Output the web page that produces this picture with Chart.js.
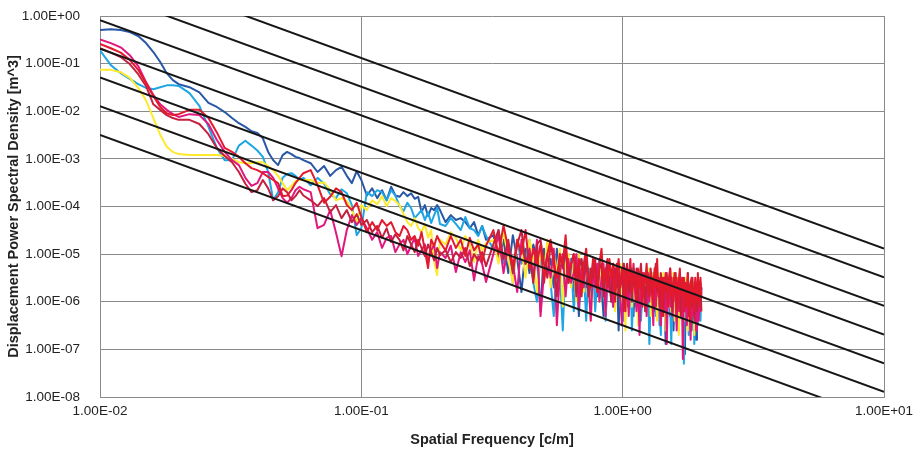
<!DOCTYPE html>
<html>
<head>
<meta charset="utf-8">
<script src="https://cdn.jsdelivr.net/npm/chart.js@4.4.1/dist/chart.umd.min.js"></script>
<style>
  html, body { margin: 0; padding: 0; background: #ffffff; }
  canvas { display: block; }
</style>
</head>
<body>
<canvas id="psd" width="914" height="458"></canvas>
<script>
// Spatial frequency samples [c/m]
const freq = [
  0.010,0.011,0.012,0.013,0.014,0.015,0.016,0.017,0.018,0.019,0.020,
  0.022,0.024,0.026,0.028,0.030,0.032,0.034,0.036,0.038,0.040,0.042,0.044,0.046,0.048,0.050,0.052,0.054,0.056,0.058,0.060,
  0.064,0.068,0.072,0.076,0.080,0.084,0.088,0.092,0.096,0.100,
  0.105,0.110,0.115,0.120,0.125,0.130,0.135,0.140,0.145,0.150,0.155,0.160,0.165,0.170,0.175,0.180,0.185,0.190,0.195,0.200,
  0.21,0.22,0.23,0.24,0.25,0.26,0.27,0.28,0.29,0.30,
  0.320,0.335,0.350,0.365,0.380,0.395,0.410,0.425,0.440,0.455,
  0.470,0.485,0.500,0.515,0.530,0.545,0.560,0.575,0.590,0.605,
  0.620,0.635,0.650,0.665,0.680,0.695,0.710,0.725,0.740,0.755,
  0.770,0.785,0.800,0.815,0.830,0.845,0.860,0.875,0.890,0.905,
  0.920,0.935,0.950,0.965,0.980,0.995,1.010,1.025,1.040,1.055,
  1.070,1.085,1.100,1.115,1.130,1.145,1.160,1.175,1.190,1.205,
  1.220,1.235,1.250,1.265,1.280,1.295,1.310,1.325,1.340,1.355,
  1.370,1.385,1.400,1.415,1.430,1.445,1.460,1.475,1.490,1.505,
  1.520,1.535,1.550,1.565,1.580,1.595,1.610,1.625,1.640,1.655,
  1.670,1.685,1.700,1.715,1.730,1.745,1.760,1.775,1.790,1.805,
  1.820,1.835,1.850,1.865,1.880,1.895,1.910,1.925,1.940,1.955,
  1.970,1.985,2.000
];

// Measured displacement PSD per run [m^3]
const psdRed = [
  0.26,0.21,0.17,0.12,0.074,0.039,0.021,0.0123,0.0091,0.0083,0.0087,
  0.0107,0.0107,0.0072,0.0036,0.0017,0.0014,0.0011,0.00081,0.00064,0.00058,0.0005,0.00042,0.00036,0.00031,0.000165,0.00017,0.00022,0.00031,0.0004,0.0005,
  5.8e-4,2.8e-4,1.2e-4,1.6e-4,2.4e-4,2e-4,1.07e-4,8.4e-5,1.2e-4,6e-5,
  2.9e-5,4.7e-5,3.2e-5,5.2e-5,3.9e-5,4.7e-5,2.9e-5,2.4e-5,3.9e-5,3.2e-5,2e-5,2.4e-5,1.5e-5,2.9e-5,1.2e-5,5.1e-6,2e-5,1.5e-5,2.4e-5,1.8e-5,
  1.2e-5,2.4e-5,1.35e-5,2e-5,9.1e-6,2.2e-5,1.2e-5,1.6e-5,6.8e-6,1.5e-5,
  3.2e-5,1e-5,4e-5,1.3e-5,5e-6,2e-5,1e-5,3.2e-5,5e-6,1.3e-5,
  6.3e-6,1.6e-5,2.5e-6,1e-5,2e-5,6.3e-6,3.2e-6,1e-5,6.3e-6,2.5e-5,
  2.5e-6,6.3e-6,1e-5,3.2e-6,7.9e-6,1.3e-6,6.3e-6,1.3e-5,3.2e-6,2e-6,
  7.9e-6,4e-6,1.6e-6,6.3e-6,1.3e-5,2.5e-6,5e-6,2e-6,7.9e-6,3.2e-6,
  6.3e-6,1e-6,4e-6,7.9e-6,2e-6,3.2e-6,6.3e-6,6.3e-7,5e-6,2.5e-6,
  7.9e-6,1.6e-6,4e-6,4e-6,1e-6,5e-6,2e-6,3.2e-6,7.9e-7,4e-6,
  2.5e-6,6.3e-6,1.6e-6,1.3e-6,4e-6,3.2e-6,1e-6,5e-6,2e-6,7.9e-6,
  1.3e-6,2.5e-6,3.2e-6,5e-7,3.2e-6,1.6e-6,4e-6,2e-6,7.9e-7,3.2e-6,
  5e-6,1.3e-6,2.5e-6,1e-6,4e-6,1.6e-6,3.2e-6,6.3e-7,2.5e-6,5e-6,
  1.3e-6,1.6e-6,3.2e-6,6.3e-7,2.5e-6,2e-6,7.9e-7,4e-6,1.3e-6,4e-7,
  2.5e-6,3.2e-6,1e-6,2e-6,6.3e-7,3.2e-6,1.6e-6,1e-6,4e-6,7.9e-7,
  2e-6,3.2e-6,1.3e-6
];

const psdCrimson = [
  0.21,0.17,0.138,0.098,0.06,0.034,0.014,0.0107,0.0083,0.0072,0.0066,
  0.0066,0.0054,0.0033,0.0017,0.00115,0.00085,0.00053,0.0003,0.0002,0.00022,0.00036,0.00024,0.000135,0.000165,0.00024,0.0002,0.000135,0.000165,0.00022,0.00017,
  1.35e-4,1.02e-4,1.5e-4,7.6e-5,1.07e-4,5.7e-5,8.4e-5,4.7e-5,6.9e-5,4.1e-5,
  5.2e-5,2.9e-5,3.9e-5,2.2e-5,3.5e-5,1.8e-5,2.6e-5,2e-5,1.2e-5,2.4e-5,1.6e-5,1.1e-5,2e-5,1.35e-5,9.1e-6,1.6e-5,1.1e-5,7.4e-6,1.35e-5,9.5e-6,
  1.2e-5,6.8e-6,1.1e-5,8.3e-6,1.35e-5,5.6e-6,1e-5,7.4e-6,1.1e-5,5.6e-6,
  1.6e-5,3.2e-5,7.9e-6,2e-5,4e-6,1.6e-5,3.2e-5,6.3e-6,1e-5,2.5e-6,
  1.6e-5,2e-5,6.3e-6,3.2e-6,1.6e-5,7.9e-6,1.3e-6,1e-5,5e-6,1.3e-5,
  2.5e-6,6.3e-6,1e-5,1.3e-6,5e-6,7.9e-6,3.2e-6,1e-5,1.3e-6,5e-6,
  3.2e-6,7.9e-6,1.6e-6,5e-6,6.3e-6,1.3e-6,4e-6,7.9e-6,2.5e-6,1e-6,
  6.3e-6,3.2e-6,6.3e-6,1.3e-6,2.5e-6,5e-6,6.3e-7,4e-6,6.3e-6,1.6e-6,
  3.2e-6,1e-6,5e-6,2e-6,5e-6,1e-6,3.2e-6,6.3e-6,1.6e-6,2.5e-6,
  6.3e-7,4e-6,3.2e-6,1.3e-6,5e-6,2e-6,7.9e-7,4e-6,6.3e-6,1.6e-6,
  3.2e-6,7.9e-7,4e-6,2e-6,5e-7,3.2e-6,1.6e-6,4e-6,1e-6,2.5e-6,
  5e-6,1.3e-6,6.3e-7,3.2e-6,2e-6,4e-6,7.9e-7,2.5e-6,1.6e-6,4e-6,
  5e-7,2.5e-6,1.6e-6,3.2e-6,7.9e-7,2e-6,1e-6,4e-6,5e-7,2e-6,
  2.5e-6,7.9e-7,3.2e-6,1.3e-6,4e-7,2.5e-6,2e-6,6.3e-7,3.2e-6,1.6e-6,
  1e-6,2.5e-6,6.3e-7
];

const psdMagenta = [
  0.32,0.27,0.22,0.15,0.089,0.041,0.022,0.014,0.0107,0.0087,0.0076,
  0.0087,0.0083,0.0054,0.0025,0.0014,0.00094,0.00074,0.0004,0.00027,0.00031,0.00053,0.00053,0.0004,0.00024,0.00015,0.00012,0.00015,0.00022,0.00026,0.00023,
  2e-4,3.5e-5,4.1e-5,8.4e-5,2.8e-5,9e-6,3.2e-5,6.6e-5,4.1e-5,5.7e-5,
  3.5e-5,2e-5,2.9e-5,1.35e-5,2.2e-5,2.4e-5,1.1e-5,1.6e-5,2e-5,1e-5,1.5e-5,2.2e-5,9.1e-6,1.2e-5,1.6e-5,6.8e-6,1.2e-5,1.6e-5,5.1e-6,1.1e-5,
  8.3e-6,1.5e-5,4.2e-6,1.1e-5,6.8e-6,1.2e-5,2.8e-6,9.1e-6,6.2e-6,2.6e-6,
  1e-5,2.5e-5,4e-6,1.6e-5,6.3e-6,1.6e-6,2e-5,6.3e-6,1.3e-5,3.2e-6,
  2e-5,5e-7,4e-6,1e-5,3.2e-6,1.3e-5,3.2e-7,4e-6,1e-5,1.3e-6,
  7.9e-6,2.5e-6,4e-6,1e-5,7.9e-7,5e-6,2e-6,7.9e-6,2.5e-6,4e-7,
  5e-6,2e-6,6.3e-6,1e-6,3.2e-6,6.3e-6,5e-7,5e-6,1.6e-6,4e-6,
  7.9e-7,5e-6,2e-6,4e-6,1e-6,3.2e-7,5e-6,1.6e-6,3.2e-6,5e-7,
  4e-6,1.3e-6,6.3e-6,1.6e-6,6.3e-7,3.2e-6,2e-7,2.5e-6,4e-6,1.3e-6,
  2e-6,5e-7,4e-6,1e-6,3.2e-6,1.6e-6,3.2e-7,4e-6,7.9e-7,2.5e-6,
  3.2e-6,1e-6,3.2e-7,3.2e-6,1.6e-6,6.3e-7,3.2e-6,1.3e-7,1.3e-6,2.5e-6,
  7.9e-7,3.2e-6,5e-7,1.6e-6,3.2e-6,1e-6,2.5e-7,2.5e-6,1.3e-6,6.3e-7,
  3.2e-6,1.3e-6,6.3e-8,2e-6,6.3e-7,2.5e-6,3.2e-7,1e-6,2e-6,7.9e-7,
  1.6e-7,2.5e-6,5e-7,1.6e-6,7.9e-7,2e-6,2.5e-7,2.5e-6,1e-6,4e-7,
  2e-6,6.3e-7,2e-6
];

const psdYellow = [
  0.074,0.074,0.066,0.05,0.031,0.017,0.0072,0.0032,0.0018,0.0014,0.00126,
  0.0012,0.0012,0.0012,0.0012,0.00115,0.001,0.00085,0.00081,0.00081,0.00085,0.00085,0.00071,0.00058,0.00044,0.00031,0.00022,0.00027,0.00034,0.00036,0.00036,
  3.6e-4,3.1e-4,3.2e-4,2.2e-4,1.35e-4,1.5e-4,1.3e-4,8.4e-5,4.7e-5,1.07e-4,
  8.4e-5,1.35e-4,1.12e-4,1.65e-4,1.02e-4,1.5e-4,1.3e-4,1.07e-4,6.9e-5,4.7e-5,3.9e-5,5.7e-5,3.5e-5,2.9e-5,4.3e-5,2.2e-5,3.2e-5,6.8e-6,3.6e-6,2e-5,
  1.6e-5,2.9e-5,2.2e-5,1.2e-5,2.4e-5,1.6e-5,6.8e-6,2e-5,1.2e-5,1.7e-5,
  2e-5,6.3e-6,3.2e-5,7.9e-6,2.5e-6,2e-5,1.3e-5,3.2e-6,2e-5,7.9e-6,
  1.6e-6,1.3e-5,4e-6,2e-5,2e-6,1e-5,4e-6,1.3e-5,7.9e-7,6.3e-6,
  1e-5,2e-6,6.3e-6,1e-6,1e-5,3.2e-6,1.6e-6,7.9e-6,3.2e-6,4e-7,
  7.9e-6,2e-6,5e-6,1e-6,6.3e-6,2.5e-6,6.3e-7,7.9e-6,4e-6,1.6e-6,
  6.3e-6,6.3e-7,4e-6,1.6e-6,6.3e-6,1e-6,2.5e-6,2.5e-7,5e-6,2e-6,
  4e-6,7.9e-7,6.3e-6,1e-6,2.5e-6,3.2e-7,4e-6,2e-6,1.3e-6,4e-6,
  7.9e-7,3.2e-6,1.6e-6,5e-6,5e-7,2.5e-6,4e-6,1e-6,2e-6,4e-7,
  4e-6,1e-6,2.5e-6,5e-7,4e-6,1.3e-6,2.5e-7,2.5e-6,2e-6,7.9e-7,
  3.2e-6,6.3e-7,1.6e-6,4e-6,4e-7,2.5e-6,1e-6,3.2e-6,2e-7,2e-6,
  2.5e-6,6.3e-7,2.5e-6,4e-7,1.6e-6,3.2e-6,1e-6,2.5e-7,2e-6,7.9e-7,
  2.5e-6,5e-7,1.3e-6,2.5e-6,2e-7,2e-6,7.9e-7,1.6e-6,4e-7,2.5e-6,
  1e-6,2e-6,6.3e-7
];

const psdCyan = [
  0.19,0.093,0.063,0.048,0.037,0.031,0.029,0.032,0.035,0.035,0.034,
  0.024,0.013,0.0047,0.0017,0.00094,0.00094,0.0019,0.0024,0.0019,0.0015,0.0011,0.00053,0.000135,0.0002,0.0004,0.00048,0.0005,0.00044,0.00036,0.0004,
  2.8e-4,4e-4,3e-4,1.8e-4,1.5e-4,2.3e-4,1.9e-4,1.07e-4,2.5e-5,3.5e-5,
  2e-4,1.65e-4,2.2e-4,2e-4,1.35e-4,2.2e-4,1.7e-4,1.02e-4,8e-5,1.2e-4,9.3e-5,5.7e-5,6.9e-5,8.4e-5,5.2e-5,7.6e-5,4.5e-5,6.6e-5,9.3e-5,4.3e-5,
  3.9e-5,5.7e-5,4.3e-5,3.2e-5,6e-5,3.5e-5,3.2e-5,2.4e-5,3.9e-5,2.4e-5,
  1.3e-5,3.2e-5,6.3e-6,1.3e-5,2.5e-6,2e-5,6.3e-6,7.9e-6,2e-5,2.5e-6,
  1e-6,1e-5,4e-6,1.3e-5,2.5e-6,5e-7,6.3e-6,4e-6,2.5e-7,7.9e-6,
  2.5e-6,7.9e-6,6.3e-7,4e-6,1e-5,1.3e-6,5e-6,4e-7,5e-6,2e-6,
  6.3e-6,6.3e-7,3.2e-6,6.3e-6,1.3e-6,5e-6,4e-7,2.5e-6,6.3e-6,1.6e-6,
  7.9e-7,4e-6,2e-6,6.3e-6,7.9e-7,3.2e-6,4e-7,4e-6,1.6e-6,2.5e-6,
  5e-6,2.5e-7,2e-6,3.2e-6,7.9e-7,4e-6,1.3e-6,4e-7,2.5e-6,4e-6,
  6.3e-7,2e-6,4e-6,1.3e-7,1.6e-6,3.2e-6,1e-6,4e-6,5e-7,2e-6,
  3.2e-6,6.3e-7,2e-7,3.2e-6,1.3e-6,1e-6,2.5e-6,3.2e-7,2e-6,3.2e-6,
  7.9e-7,1.3e-7,2.5e-6,1.3e-6,3.2e-6,5e-7,1.6e-6,2.5e-6,2.5e-7,1e-6,
  3.2e-6,6.3e-7,1.3e-6,5e-8,2e-6,4e-7,2.5e-6,7.9e-7,2e-7,1.6e-6,
  2e-6,5e-7,1e-6,2.5e-6,1.3e-7,1.3e-6,2e-6,6.3e-7,3.2e-7,2.5e-6,
  1e-6,4e-7,2e-6
];

const psdNavy = [
  0.51,0.53,0.51,0.46,0.38,0.27,0.175,0.108,0.063,0.045,0.037,
  0.032,0.025,0.015,0.0123,0.0096,0.0072,0.0056,0.0047,0.0038,0.0035,0.0027,0.0014,0.00094,0.00074,0.0012,0.0014,0.00126,0.0011,0.00104,0.00094,
  8.1e-4,5.3e-4,7.1e-4,4.4e-4,5.8e-4,6.8e-4,4.4e-4,3.1e-4,5.5e-4,3.6e-4,
  1.7e-4,2.4e-4,1.5e-4,2.2e-4,1.35e-4,2.6e-4,1.7e-4,1.6e-4,2e-4,1.65e-4,1.9e-4,1.45e-4,1.6e-4,7.6e-5,1.07e-4,6.3e-5,9.3e-5,8.4e-5,1.07e-4,8.4e-5,
  4.7e-5,6.6e-5,5.2e-5,5.7e-5,4.7e-5,3.5e-5,4.7e-5,2.5e-5,3.9e-5,2e-5,
  2.5e-5,7.9e-6,2e-5,4e-6,2.5e-5,7.9e-6,1.6e-6,1.3e-5,4e-6,1.6e-5,
  7.9e-6,6.3e-7,1.3e-5,4e-6,7.9e-6,2e-6,1.3e-5,4e-6,1e-6,7.9e-6,
  3.2e-6,7.9e-6,1.6e-6,5e-6,5e-7,7.9e-6,3.2e-6,2e-6,5e-6,7.9e-7,
  6.3e-6,3.2e-6,1.3e-6,7.9e-6,2e-6,5e-7,5e-6,2.5e-6,6.3e-6,1e-6,
  4e-6,1.6e-6,5e-6,2.5e-7,4e-6,1.3e-6,6.3e-6,2e-6,7.9e-7,4e-6,
  1.6e-6,5e-6,5e-7,2.5e-6,1e-6,4e-6,2e-6,5e-7,3.2e-6,1.3e-6,
  4e-6,7.9e-7,2e-6,2.5e-7,3.2e-6,1.3e-6,4e-6,6.3e-7,2.5e-6,1.6e-6,
  3.2e-6,3.2e-7,1.3e-6,3.2e-6,7.9e-7,1.6e-6,1.3e-7,2.5e-6,1e-6,3.2e-6,
  5e-7,2e-6,2.5e-6,2.5e-7,1.3e-6,3.2e-6,7.9e-7,1.6e-6,4e-7,2.5e-6,
  1.3e-6,2.5e-6,5e-7,1.3e-6,7.9e-8,2e-6,7.9e-7,2.5e-6,4e-7,1.3e-6,
  2e-6,2.5e-7,1e-6,2.5e-6,6.3e-7,1.6e-6,1.6e-7,2e-6,7.9e-7,2.5e-6,
  5e-7,1.3e-6,2e-6
];

// Road class boundary lines (slope -2): PSD at 0.01 c/m and at 10 c/m
const classBoundaryAtLow  = [13.1072, 3.2768, 0.8192, 0.2048, 0.0512, 0.0128, 0.0032];
const classBoundaryAtHigh = [1.31072e-5, 3.2768e-6, 8.192e-7, 2.048e-7, 5.12e-8, 1.28e-8, 3.2e-9];
const boundaryFreqRange = [0.01, 10];

// Axis ticks
const xTickValues = [0.01, 0.1, 1, 10];
const xTickLabels = ['1.00E-02', '1.00E-01', '1.00E+00', '1.00E+01'];
const yTickValues = [1e-8, 1e-7, 1e-6, 1e-5, 1e-4, 1e-3, 1e-2, 1e-1, 1];
const yTickLabels = ['1.00E-08', '1.00E-07', '1.00E-06', '1.00E-05', '1.00E-04', '1.00E-03', '1.00E-02', '1.00E-01', '1.00E+00'];

const runs = [
  { values: psdRed,     color: '#e3192d' },
  { values: psdCrimson, color: '#c4213f' },
  { values: psdMagenta, color: '#e2177e' },
  { values: psdYellow,  color: '#ffe92e' },
  { values: psdCyan,    color: '#1ea6e4' },
  { values: psdNavy,    color: '#2857a5' }
];

const boundaryDatasets = classBoundaryAtLow.map((lo, i) => ({
  data: [
    { x: boundaryFreqRange[0], y: lo },
    { x: boundaryFreqRange[1], y: classBoundaryAtHigh[i] }
  ],
  borderColor: '#161616',
  borderWidth: 2,
  clip: 0
}));

const runDatasets = runs.map(r => ({
  data: freq.map((f, i) => ({ x: f, y: r.values[i] })),
  borderColor: r.color,
  borderWidth: 2,
  borderJoinStyle: 'round'
}));

const gridColor = '#8a8a8a';
const fontFamily = '"Liberation Sans", Arial, sans-serif';

new Chart(document.getElementById('psd'), {
  type: 'scatter',
  data: { datasets: [...boundaryDatasets, ...runDatasets] },
  options: {
    responsive: false,
    animation: false,
    showLine: true,
    elements: { point: { radius: 0, hoverRadius: 0 }, line: { tension: 0 } },
    layout: { padding: { left: 0, top: 16, right: 30, bottom: 0 } },
    plugins: { legend: { display: false }, tooltip: { enabled: false } },
    scales: {
      x: {
        type: 'logarithmic',
        min: 0.01,
        max: 10,
        afterBuildTicks: s => { s.ticks = xTickValues.map(v => ({ value: v })); },
        afterFit: s => { s.height = 61; },
        ticks: {
          autoSkip: false,
          maxRotation: 0,
          padding: 0,
          color: '#222',
          font: { family: fontFamily, size: 13.5 },
          callback: (v, i) => xTickLabels[i]
        },
        grid: { color: gridColor, lineWidth: 1, drawTicks: true, tickLength: 6, tickColor: 'rgba(0,0,0,0)' },
        border: { display: true, color: gridColor },
        title: {
          display: true,
          text: 'Spatial Frequency [c/m]',
          color: '#222',
          font: { family: fontFamily, size: 14.5, weight: 'bold' },
          padding: { top: 0, bottom: 9 }
        }
      },
      y: {
        type: 'logarithmic',
        min: 1e-8,
        max: 1,
        afterBuildTicks: s => { s.ticks = yTickValues.map(v => ({ value: v })); },
        afterFit: s => { s.width = 100; },
        ticks: {
          autoSkip: false,
          padding: 0,
          color: '#222',
          font: { family: fontFamily, size: 13.5 },
          callback: (v, i) => yTickLabels[i]
        },
        grid: { color: gridColor, lineWidth: 1, drawTicks: true, tickLength: 20, tickColor: 'rgba(0,0,0,0)' },
        border: { display: true, color: gridColor },
        title: {
          display: true,
          text: 'Displacement Power Spectral Density [m^3]',
          color: '#222',
          font: { family: fontFamily, size: 14.5, weight: 'bold' },
          padding: { top: 5, bottom: 0 }
        }
      }
    }
  }
});
</script>
</body>
</html>
